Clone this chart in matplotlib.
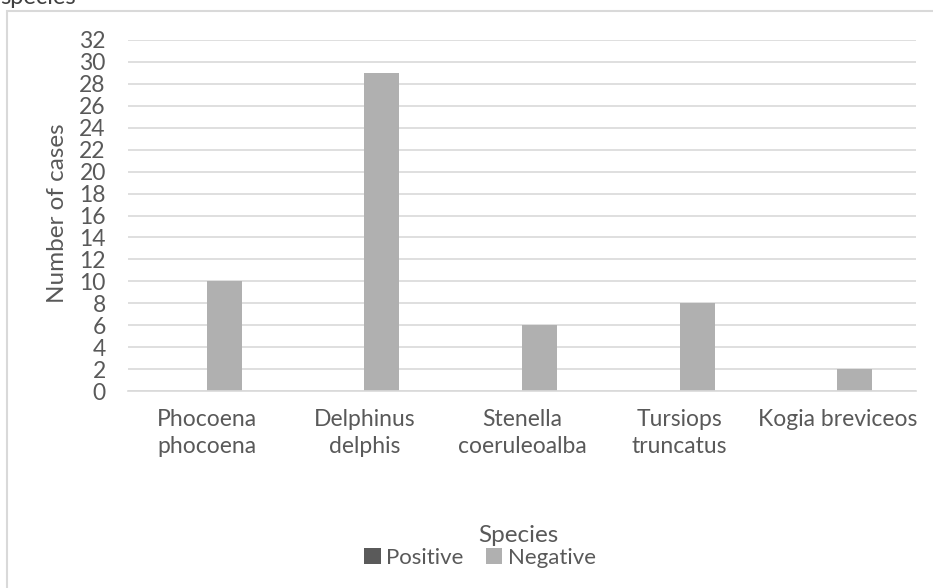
import matplotlib
matplotlib.use("Agg")
import matplotlib.pyplot as plt
from matplotlib.patches import Rectangle
import numpy as np

species = ["Phocoena\nphocoena", "Delphinus\ndelphis", "Stenella\ncoeruleoalba",
           "Tursiops\ntruncatus", "Kogia breviceos"]
positive = [0, 0, 0, 0, 0]
negative = [10, 29, 6, 8, 2]

txt = "#595959"
grid = "#D9D9D9"
plt.rcParams["font.family"] = ["Lato", "DejaVu Sans"]

W, H = 933, 588
fig = plt.figure(figsize=(W / 100, H / 100), dpi=100)

# outer chart frame (runs off the right and bottom edges)
fig.patches.append(Rectangle((7 / W, -0.1), 1.1, 1 - 11 / H + 0.1,
                             transform=fig.transFigure, fill=False,
                             edgecolor=grid, linewidth=1.5))
fig.text(0 / W, 1 - 4 / H, "species", fontsize=17, color="#404040",
         ha="left", va="baseline")

ax = fig.add_axes([128 / W, 1 - 391 / H, (916 - 128) / W, (391 - 40) / H])
x = np.arange(len(species))
bw = 0.222
ax.bar(x - bw / 2, positive, bw, color="#5A5A5A", label="Positive", zorder=3)
ax.bar(x + bw / 2, negative, bw, color="#B0B0B0", label="Negative", zorder=3)

ax.set_xlim(-0.5, len(species) - 0.5)
ax.set_ylim(0, 32)
ax.set_yticks(range(0, 33, 2))
ax.set_xticks(x)
ax.set_xticklabels(species, linespacing=1.35)
ax.tick_params(axis="y", length=0, pad=16, labelsize=16.5, labelcolor=txt)
ax.tick_params(axis="x", length=0, pad=13, labelsize=16.5, labelcolor=txt)
ax.grid(axis="y", color=grid, linewidth=1.2, zorder=0)
for s in ["top", "right", "left"]:
    ax.spines[s].set_visible(False)
ax.spines["bottom"].set_color(grid)
ax.spines["bottom"].set_linewidth(1.2)
ax.spines["bottom"].set_zorder(4)

fig.text(58 / W, 1 - 213 / H, "Number of cases", rotation=90, fontsize=17.5,
         color=txt, ha="center", va="center")
fig.text(518 / W, 1 - 535 / H, "Species", fontsize=17.5, color=txt,
         ha="center", va="center")

fig.legend(loc="center", bbox_to_anchor=(480 / W, 1 - 558 / H), ncol=2,
           frameon=False, fontsize=16, labelcolor=txt, handlelength=0.75,
           handleheight=0.75, handletextpad=0.25, columnspacing=1.0)

fig.savefig("out.png", dpi=100)
